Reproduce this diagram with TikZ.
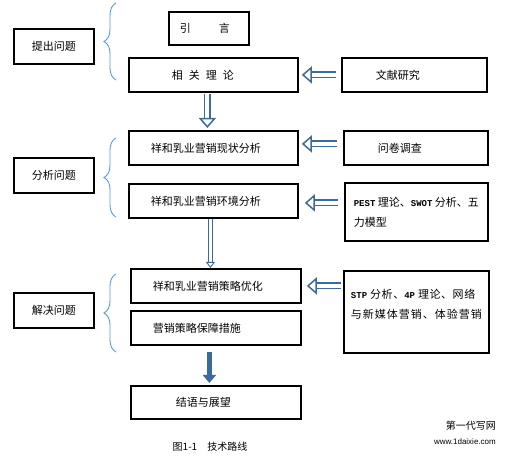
\documentclass[tikz,border=0pt]{standalone}
\usepackage{fontspec}
\setmainfont{Noto Sans CJK SC}
\newfontfamily\monob{Liberation Mono}
\newfontfamily\wmfont{Liberation Sans}
\usetikzlibrary{arrows.meta,decorations.pathreplacing}

\definecolor{arrowblue}{HTML}{3C6A9E}
\definecolor{braceblue}{HTML}{5B9BD5}

\newcommand{\en}[1]{{\monob\bfseries\fontsize{9}{20}\selectfont #1}}

\tikzset{
  box/.style={draw, line width=1.8pt, anchor=north west, inner ysep=0pt, align=left},
  sidebox/.style={draw, line width=1.8pt, anchor=north west, inner sep=0pt,
    minimum width=80, minimum height=35},
  hollow/.style={draw=arrowblue, line width=1.5pt, double=white, double distance=4pt,
    -{Triangle[open, fill=white, line width=1.5pt, length=10pt, width=17pt]}},
  thinarrow/.style={draw=arrowblue, line width=0.9pt, double=white, double distance=2.4pt,
    -{Triangle[open, fill=white, line width=0.9pt, length=6pt, width=9pt]}},
  solidarrow/.style={draw=arrowblue, line width=5pt, -{Triangle[length=8pt, width=13pt]}},
  brace/.style={draw=braceblue, line width=0.9pt, decorate, decoration={brace, amplitude=12pt}}
}

\begin{document}
\begin{tikzpicture}[x=1pt, y=-1pt, font=\fontsize{11}{20}\selectfont]
\useasboundingbox (0,0) rectangle (507,457);

% left column
\node[sidebox] (tichu) at (13,28) {提出问题};
\node[sidebox] (fenxi) at (13,157) {分析问题};
\node[sidebox] (jiejue) at (13,292) {解决问题};

% braces
\foreach \top/\bot in {3/80, 138/217, 274/352}
  \draw[brace] (116,\bot) -- (116,\top);

% main column
\node[box, minimum width=80, minimum height=33, inner xsep=11, text width=58] (yinyan) at (168,11) {引\hspace{28pt}言};
\node[box, minimum width=169, minimum height=34, inner xsep=43, text width=83] (xiangguan) at (128,57) {相\hspace{6pt}关\hspace{6pt}理\hspace{6pt}论};
\node[box, minimum width=169, minimum height=34, inner xsep=22, text width=125] (xianzhuang) at (128,130) {祥和乳业营销现状分析};
\node[box, minimum width=169, minimum height=34, inner xsep=22, text width=125] (huanjing) at (128,183) {祥和乳业营销环境分析};
\node[box, minimum width=170, minimum height=34, inner xsep=22, text width=126] (youhua) at (130,268) {祥和乳业营销策略优化};
\node[box, minimum width=170, minimum height=34, inner xsep=22, text width=126] (baozhang) at (130,310) {营销策略保障措施};
\node[box, minimum width=170, minimum height=33, inner xsep=45, text width=80] (jieyu) at (130,385) {结语与展望};

% methods
\node[box, minimum width=145, minimum height=34, inner xsep=34, text width=77] (wenxian) at (341,57) {文献研究};
\node[box, minimum width=144, minimum height=34, inner xsep=34, text width=76] (wenjuan) at (343,130) {问卷调查};
\node[box, minimum width=143, minimum height=58, inner xsep=0pt] (pest) at (344,182) {\en{PEST} 理论、\en{SWOT} 分析、五\\力模型};
\node[box, minimum width=145, minimum height=82, inner xsep=0pt, text depth=16pt] (stp) at (343,270) {{\addfontfeature{LetterSpace=5}\en{STP} 分析、\en{4P} 理论、网络}\\{\addfontfeature{LetterSpace=9}与新媒体营销、体验营销}};

% arrows
\draw[hollow, shorten <=5pt, shorten >=3pt] (wenxian.west) -- (xiangguan.east);
\draw[hollow, shorten <=6pt, shorten >=3pt] ([yshift=4pt]wenjuan.west) -- ([yshift=4pt]xianzhuang.east);
\draw[hollow, shorten <=6pt, shorten >=6pt] ([yshift=-2pt]huanjing.east -| pest.west) -- ([yshift=-2pt]huanjing.east);
\draw[hollow, shorten <=2pt, shorten >=5pt] (youhua.east -| stp.west) -- (youhua.east);
\draw[hollow, shorten <=1pt, shorten >=2pt] ([xshift=-6pt]xiangguan.south) -- ([xshift=-6pt]xianzhuang.north);
\draw[thinarrow] ([xshift=-3pt]huanjing.south) -- ([xshift=-3pt]huanjing.south |- youhua.north);
\draw[solidarrow, shorten <=6pt, shorten >=2pt] ([xshift=-6.5pt]baozhang.south) -- ([xshift=-6.5pt]jieyu.north);

% caption
\node[font=\fontsize{10}{12}\selectfont] (caption) at (210,447) {图1-1\hspace{10pt}技术路线};

% watermark
\node[anchor=north east, align=right, inner sep=0pt, font=\fontsize{10}{15}\selectfont] (watermark) at (496,421) {第一代写网\\{\wmfont\fontsize{8}{15}\selectfont www.1daixie.com}};
\end{tikzpicture}
\end{document}
